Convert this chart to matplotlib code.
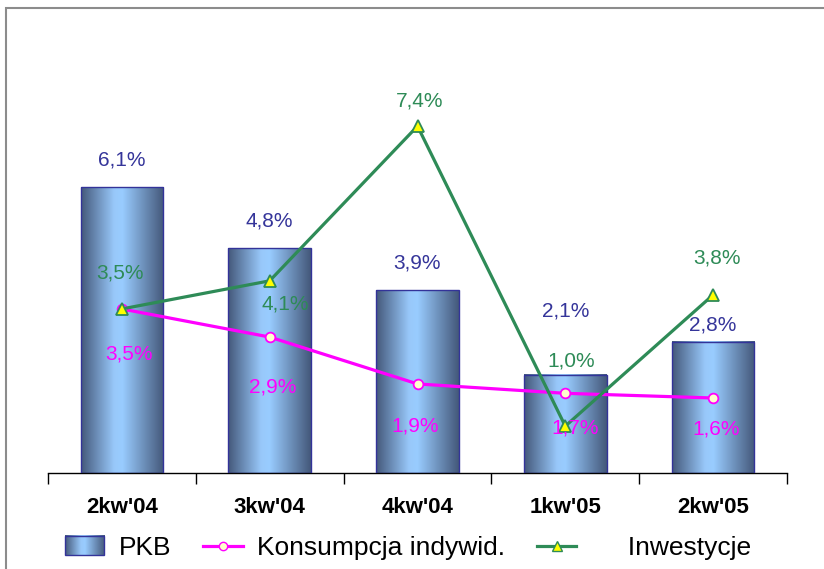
import numpy as np
import matplotlib
matplotlib.use('Agg')
import matplotlib.pyplot as plt
from matplotlib.colors import LinearSegmentedColormap
from matplotlib.patches import Rectangle
from matplotlib.lines import Line2D
from matplotlib.legend_handler import HandlerBase
from matplotlib.image import BboxImage
from matplotlib.transforms import Bbox, TransformedBbox

quarters = ["2kw'04", "3kw'04", "4kw'04", "1kw'05", "2kw'05"]
pkb = [6.1, 4.8, 3.9, 2.1, 2.8]
konsumpcja = [3.5, 2.9, 1.9, 1.7, 1.6]
inwestycje = [3.5, 4.1, 7.4, 1.0, 3.8]

# label offsets in pixels (dx, dy) relative to the data point
pkb_off = [(0, 27), (0, 27), (0, 27), (0, 64), (0, 17)]
kons_off = [(7, -45), (3, -50), (-2, -42), (10, -35), (3, -31)]
inw_off = [(-2, 36), (16, -23), (2, 25), (6, 65), (4, 37)]

NAVY = '#35359a'
MAGENTA = '#ff00ff'
GREEN = '#2e8b57'
EDGE = '#333399'
FONT = ['Liberation Sans', 'DejaVu Sans']

cyl = LinearSegmentedColormap.from_list(
    'cyl', [(0, '#44587a'), (0.4, '#98c8fa'), (0.5, '#99ccff'), (1, '#44587a')])
grad = np.linspace(0, 1, 256).reshape(1, -1)


def fmt(v):
    return f'{v:.1f}'.replace('.', ',') + '%'


class CylHandler(HandlerBase):
    # legend key drawn with the same cylinder shading as the bars
    def create_artists(self, legend, orig_handle, xdescent, ydescent,
                       width, height, fontsize, trans):
        bb = TransformedBbox(Bbox.from_bounds(-xdescent, -ydescent, width, height), trans)
        img = BboxImage(bb, cmap=cyl, interpolation='bicubic')
        img.set_data(grad)
        rect = Rectangle((-xdescent, -ydescent), width, height, fill=False,
                         edgecolor=EDGE, linewidth=1.0, transform=trans)
        return [img, rect]


plt.rcParams['font.family'] = FONT
fig = plt.figure(figsize=(8.24, 5.69), dpi=100)
ax = fig.add_axes([48 / 824, 96 / 569, 739 / 824, 375 / 569])

x = np.arange(len(quarters))
w = 0.56
for xi, v in zip(x, pkb):
    ax.imshow(grad, cmap=cyl, aspect='auto', interpolation='bicubic',
              extent=(xi - w / 2, xi + w / 2, 0, v), zorder=2)
    ax.add_patch(Rectangle((xi - w / 2, 0), w, v, fill=False,
                           edgecolor=EDGE, linewidth=1.0, zorder=3))

ax.plot(x, konsumpcja, color=MAGENTA, linewidth=2.3, marker='o', markersize=7,
        markerfacecolor='#ffffcc', markeredgecolor=MAGENTA, markeredgewidth=1.3, zorder=4)
ax.plot(x, inwestycje, color=GREEN, linewidth=2.3, marker='^', markersize=8,
        markerfacecolor='#ffff00', markeredgecolor=GREEN, markeredgewidth=1.3, zorder=5)

for vals, offs, col in ((pkb, pkb_off, NAVY), (konsumpcja, kons_off, MAGENTA),
                        (inwestycje, inw_off, GREEN)):
    for xi, v, (dx, dy) in zip(x, vals, offs):
        ax.annotate(fmt(v), (xi, v), xytext=(dx, dy), textcoords='offset pixels',
                    ha='center', va='center', color=col, fontsize=15, zorder=6)

ax.set_xlim(-0.5, len(quarters) - 0.5)
ax.set_ylim(0, 8)
ax.set_xticks(x)
ax.set_xticklabels(quarters, fontsize=16, fontweight='bold')
ax.set_xticks(np.arange(len(quarters) + 1) - 0.5, minor=True)
ax.tick_params(axis='x', which='major', length=0, pad=17)
ax.tick_params(axis='x', which='minor', length=8, width=1, color='black', direction='out')
ax.set_yticks([])
for s in ('left', 'right', 'top'):
    ax.spines[s].set_visible(False)
ax.spines['bottom'].set_color('black')
ax.spines['bottom'].set_linewidth(1.0)

handles = [
    Rectangle((0, 0), 1, 1),
    Line2D([], [], color=MAGENTA, linewidth=2.3, marker='o', markersize=6,
           markerfacecolor='#ffffcc', markeredgecolor=MAGENTA),
    Line2D([], [], color=GREEN, linewidth=2.3, marker='^', markersize=7,
           markerfacecolor='#ffff00', markeredgecolor=GREEN),
]
labels = ['PKB', 'Konsumpcja indywid.', '     Inwestycje']
fig.legend(handles, labels, loc='center', bbox_to_anchor=(408 / 824, 1 - 548 / 569),
           ncol=3, frameon=False, fontsize=19, handlelength=1.5, handleheight=0.75,
           handletextpad=0.55, columnspacing=1.2, borderpad=0.2,
           handler_map={Rectangle: CylHandler()})

# outer chart frame
fig.patches.append(Rectangle((6 / 824, -0.05), 1.0, 1 - 8 / 569 + 0.05,
                             transform=fig.transFigure, fill=False,
                             edgecolor='#8c8c8c', linewidth=1.5))

fig.savefig('out.png', dpi=100, facecolor='white')
